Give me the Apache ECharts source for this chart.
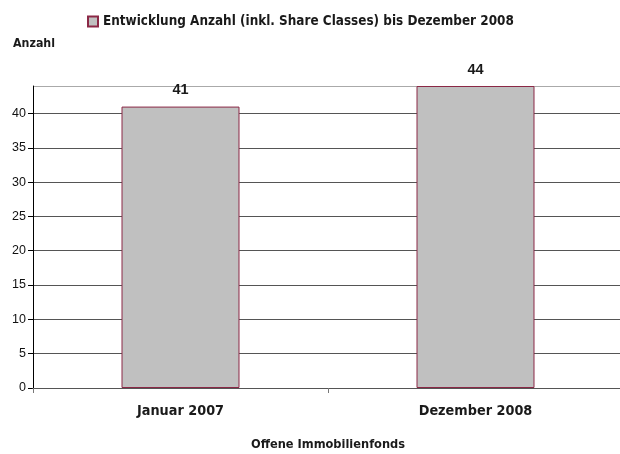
<!DOCTYPE html>
<html><head><meta charset="utf-8">
<script src="https://cdn.jsdelivr.net/npm/echarts@6/dist/echarts.min.js"></script>
<style>html,body{margin:0;padding:0;background:#fff}#c{width:620px;height:454px}</style>
</head><body><div id="c"></div>
<script>
var categories = ["Januar 2007", "Dezember 2008"];
var values = [41, 44];
var seriesName = "Entwicklung Anzahl (inkl. Share Classes) bis Dezember 2008";
var yTicks = [0, 5, 10, 15, 20, 25, 30, 35, 40];
var font = "'DejaVu Sans Condensed','DejaVu Sans',sans-serif";
var chart = echarts.init(document.getElementById('c'), null, {renderer: 'canvas'});
chart.setOption({
  animation: false,
  legend: {
    top: 10, left: 82, itemWidth: 10, itemHeight: 10, itemGap: 5,
    textStyle: {fontFamily: font, fontWeight: 'bold', fontSize: 13.4, color: '#1a1a1a'},
    data: [{name: seriesName, icon: 'rect'}]
  },
  grid: {left: 33, width: 590, top: 86, height: 302, containLabel: false, outerBoundsMode: 'none'},
  xAxis: {
    type: 'category', data: categories, boundaryGap: true, z: 3,
    name: 'Offene Immobilienfonds', nameLocation: 'middle', nameGap: 50,
    nameTextStyle: {fontFamily: font, fontWeight: 'bold', fontSize: 12.7, color: '#1a1a1a'},
    axisLine: {lineStyle: {color: '#555', width: 1}},
    axisTick: {show: true, length: 5, lineStyle: {color: '#777'}},
    axisLabel: {fontFamily: font, fontWeight: 'bold', fontSize: 14.3, color: '#1a1a1a', margin: 16}
  },
  yAxis: {
    type: 'value', min: 0, max: 44, interval: 5,
    name: 'Anzahl', nameLocation: 'end', nameGap: 36,
    nameTextStyle: {fontFamily: font, fontWeight: 'bold', fontSize: 12.3, color: '#1a1a1a', align: 'left', padding: [0, 0, 0, -20]},
    axisLine: {show: true, lineStyle: {color: '#000', width: 1}},
    axisTick: {show: true, length: 5, inside: false, lineStyle: {color: '#000'}},
    axisLabel: {fontFamily: "'Liberation Sans',sans-serif", fontSize: 12.5, color: '#111', margin: 7, showMaxLabel: false,
      formatter: function (v) { return yTicks.indexOf(v) >= 0 ? String(v) : ''; }},
    splitLine: {show: true, lineStyle: {color: ['#555', '#555', '#555', '#555', '#555', '#555', '#555', '#555', '#555', '#aaa'], width: 1}}
  },
  series: [{
    name: seriesName, type: 'bar', data: values, barWidth: '40%',
    itemStyle: {color: '#c0c0c0', borderColor: '#8b2846', borderWidth: 1},
    label: {show: true, position: 'top', distance: 9, fontFamily: "'Liberation Sans',sans-serif", fontWeight: 'bold', fontSize: 14.5, color: '#1a1a1a'}
  }]
});
</script></body></html>
